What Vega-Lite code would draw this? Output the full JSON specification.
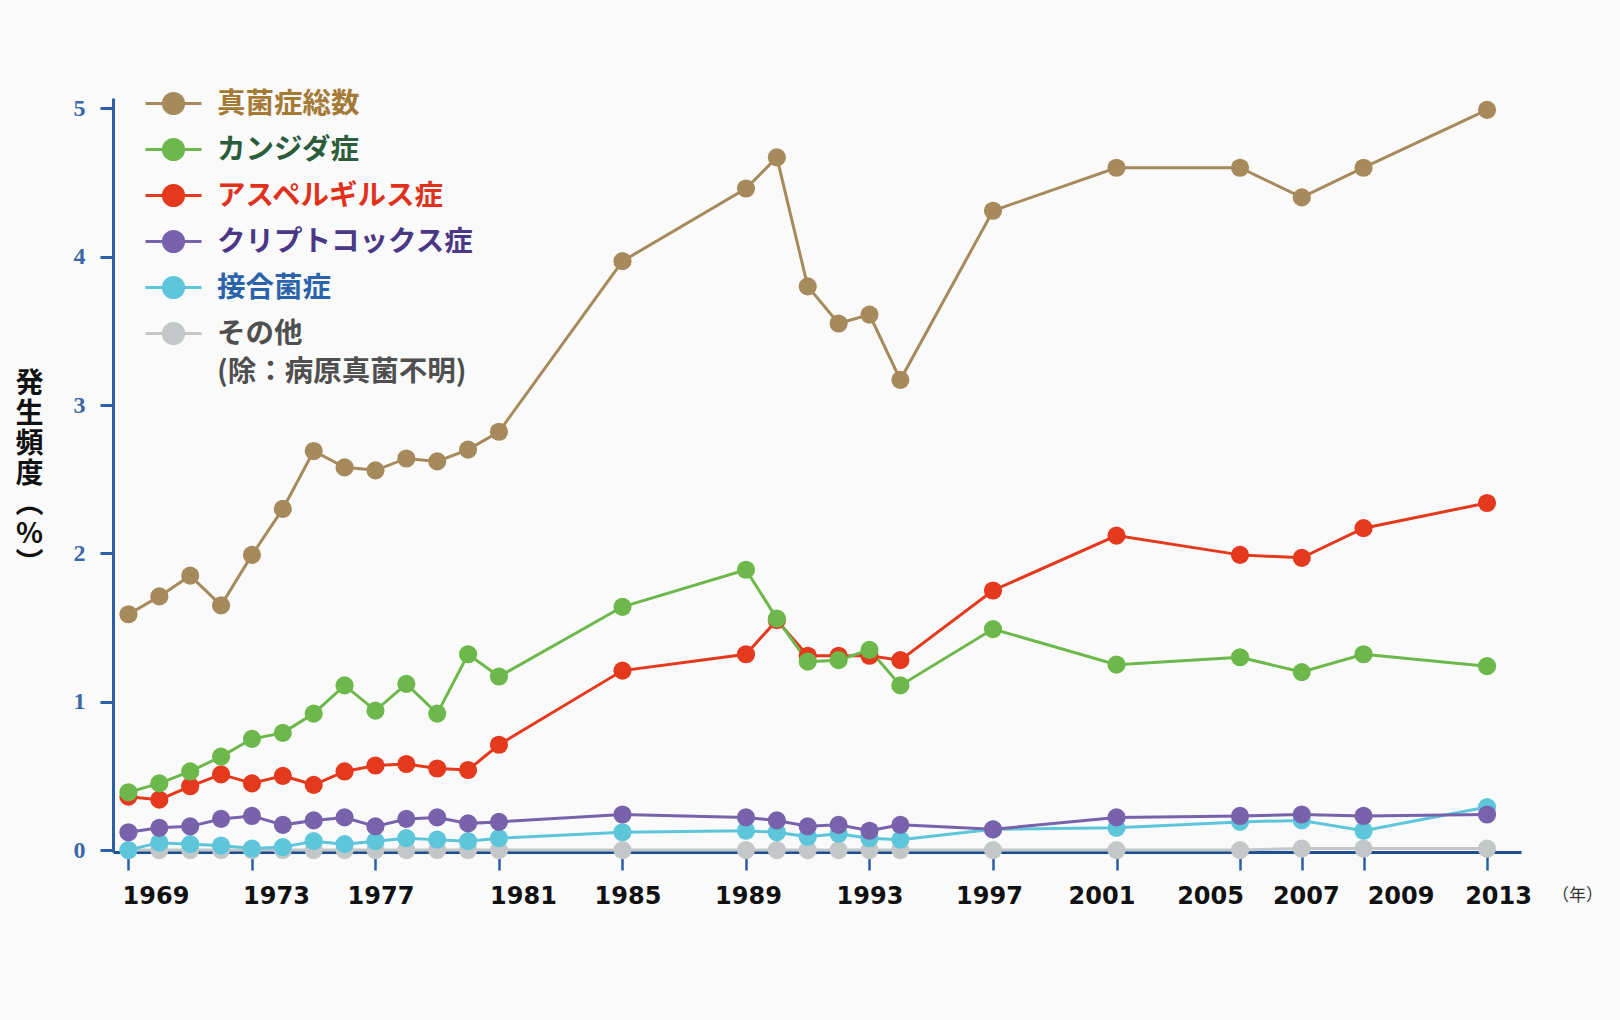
{
  "$schema": "https://vega.github.io/schema/vega-lite/v6.json",
  "width": 1408,
  "height": 754,
  "autosize": {"type": "none"},
  "padding": {"left": 113, "top": 98, "right": 99, "bottom": 168},
  "background": "#fafafa",
  "config": {"view": {"stroke": null}},
  "data": {"values": [
    {"year":1969,"type":"その他","rate":0},{"year":1970,"type":"その他","rate":0},{"year":1971,"type":"その他","rate":0},{"year":1972,"type":"その他","rate":0},{"year":1973,"type":"その他","rate":0},{"year":1974,"type":"その他","rate":0},{"year":1975,"type":"その他","rate":0},{"year":1976,"type":"その他","rate":0},{"year":1977,"type":"その他","rate":0},{"year":1978,"type":"その他","rate":0},{"year":1979,"type":"その他","rate":0},{"year":1980,"type":"その他","rate":0},{"year":1981,"type":"その他","rate":0},{"year":1985,"type":"その他","rate":0},{"year":1989,"type":"その他","rate":0},{"year":1990,"type":"その他","rate":0},{"year":1991,"type":"その他","rate":0},{"year":1992,"type":"その他","rate":0},{"year":1993,"type":"その他","rate":0},{"year":1994,"type":"その他","rate":0},{"year":1997,"type":"その他","rate":0},{"year":2001,"type":"その他","rate":0},{"year":2005,"type":"その他","rate":0},{"year":2007,"type":"その他","rate":0.01},{"year":2009,"type":"その他","rate":0.01},{"year":2013,"type":"その他","rate":0.01},
    {"year":1969,"type":"接合菌症","rate":0.00},{"year":1970,"type":"接合菌症","rate":0.05},{"year":1971,"type":"接合菌症","rate":0.04},{"year":1972,"type":"接合菌症","rate":0.03},{"year":1973,"type":"接合菌症","rate":0.01},{"year":1974,"type":"接合菌症","rate":0.02},{"year":1975,"type":"接合菌症","rate":0.06},{"year":1976,"type":"接合菌症","rate":0.04},{"year":1977,"type":"接合菌症","rate":0.06},{"year":1978,"type":"接合菌症","rate":0.08},{"year":1979,"type":"接合菌症","rate":0.07},{"year":1980,"type":"接合菌症","rate":0.06},{"year":1981,"type":"接合菌症","rate":0.08},{"year":1985,"type":"接合菌症","rate":0.12},{"year":1989,"type":"接合菌症","rate":0.13},{"year":1990,"type":"接合菌症","rate":0.12},{"year":1991,"type":"接合菌症","rate":0.09},{"year":1992,"type":"接合菌症","rate":0.11},{"year":1993,"type":"接合菌症","rate":0.08},{"year":1994,"type":"接合菌症","rate":0.07},{"year":1997,"type":"接合菌症","rate":0.14},{"year":2001,"type":"接合菌症","rate":0.15},{"year":2005,"type":"接合菌症","rate":0.19},{"year":2007,"type":"接合菌症","rate":0.20},{"year":2009,"type":"接合菌症","rate":0.13},{"year":2013,"type":"接合菌症","rate":0.29},
    {"year":1969,"type":"クリプトコックス症","rate":0.12},{"year":1970,"type":"クリプトコックス症","rate":0.15},{"year":1971,"type":"クリプトコックス症","rate":0.16},{"year":1972,"type":"クリプトコックス症","rate":0.21},{"year":1973,"type":"クリプトコックス症","rate":0.23},{"year":1974,"type":"クリプトコックス症","rate":0.17},{"year":1975,"type":"クリプトコックス症","rate":0.20},{"year":1976,"type":"クリプトコックス症","rate":0.22},{"year":1977,"type":"クリプトコックス症","rate":0.16},{"year":1978,"type":"クリプトコックス症","rate":0.21},{"year":1979,"type":"クリプトコックス症","rate":0.22},{"year":1980,"type":"クリプトコックス症","rate":0.18},{"year":1981,"type":"クリプトコックス症","rate":0.19},{"year":1985,"type":"クリプトコックス症","rate":0.24},{"year":1989,"type":"クリプトコックス症","rate":0.22},{"year":1990,"type":"クリプトコックス症","rate":0.20},{"year":1991,"type":"クリプトコックス症","rate":0.16},{"year":1992,"type":"クリプトコックス症","rate":0.17},{"year":1993,"type":"クリプトコックス症","rate":0.13},{"year":1994,"type":"クリプトコックス症","rate":0.17},{"year":1997,"type":"クリプトコックス症","rate":0.14},{"year":2001,"type":"クリプトコックス症","rate":0.22},{"year":2005,"type":"クリプトコックス症","rate":0.23},{"year":2007,"type":"クリプトコックス症","rate":0.24},{"year":2009,"type":"クリプトコックス症","rate":0.23},{"year":2013,"type":"クリプトコックス症","rate":0.24},
    {"year":1969,"type":"アスペルギルス症","rate":0.36},{"year":1970,"type":"アスペルギルス症","rate":0.34},{"year":1971,"type":"アスペルギルス症","rate":0.43},{"year":1972,"type":"アスペルギルス症","rate":0.51},{"year":1973,"type":"アスペルギルス症","rate":0.45},{"year":1974,"type":"アスペルギルス症","rate":0.50},{"year":1975,"type":"アスペルギルス症","rate":0.44},{"year":1976,"type":"アスペルギルス症","rate":0.53},{"year":1977,"type":"アスペルギルス症","rate":0.57},{"year":1978,"type":"アスペルギルス症","rate":0.58},{"year":1979,"type":"アスペルギルス症","rate":0.55},{"year":1980,"type":"アスペルギルス症","rate":0.54},{"year":1981,"type":"アスペルギルス症","rate":0.71},{"year":1985,"type":"アスペルギルス症","rate":1.21},{"year":1989,"type":"アスペルギルス症","rate":1.32},{"year":1990,"type":"アスペルギルス症","rate":1.55},{"year":1991,"type":"アスペルギルス症","rate":1.31},{"year":1992,"type":"アスペルギルス症","rate":1.31},{"year":1993,"type":"アスペルギルス症","rate":1.31},{"year":1994,"type":"アスペルギルス症","rate":1.28},{"year":1997,"type":"アスペルギルス症","rate":1.75},{"year":2001,"type":"アスペルギルス症","rate":2.12},{"year":2005,"type":"アスペルギルス症","rate":1.99},{"year":2007,"type":"アスペルギルス症","rate":1.97},{"year":2009,"type":"アスペルギルス症","rate":2.17},{"year":2013,"type":"アスペルギルス症","rate":2.34},
    {"year":1969,"type":"カンジダ症","rate":0.39},{"year":1970,"type":"カンジダ症","rate":0.45},{"year":1971,"type":"カンジダ症","rate":0.53},{"year":1972,"type":"カンジダ症","rate":0.63},{"year":1973,"type":"カンジダ症","rate":0.75},{"year":1974,"type":"カンジダ症","rate":0.79},{"year":1975,"type":"カンジダ症","rate":0.92},{"year":1976,"type":"カンジダ症","rate":1.11},{"year":1977,"type":"カンジダ症","rate":0.94},{"year":1978,"type":"カンジダ症","rate":1.12},{"year":1979,"type":"カンジダ症","rate":0.92},{"year":1980,"type":"カンジダ症","rate":1.32},{"year":1981,"type":"カンジダ症","rate":1.17},{"year":1985,"type":"カンジダ症","rate":1.64},{"year":1989,"type":"カンジダ症","rate":1.89},{"year":1990,"type":"カンジダ症","rate":1.56},{"year":1991,"type":"カンジダ症","rate":1.27},{"year":1992,"type":"カンジダ症","rate":1.28},{"year":1993,"type":"カンジダ症","rate":1.35},{"year":1994,"type":"カンジダ症","rate":1.11},{"year":1997,"type":"カンジダ症","rate":1.49},{"year":2001,"type":"カンジダ症","rate":1.25},{"year":2005,"type":"カンジダ症","rate":1.30},{"year":2007,"type":"カンジダ症","rate":1.20},{"year":2009,"type":"カンジダ症","rate":1.32},{"year":2013,"type":"カンジダ症","rate":1.24},
    {"year":1969,"type":"真菌症総数","rate":1.59},{"year":1970,"type":"真菌症総数","rate":1.71},{"year":1971,"type":"真菌症総数","rate":1.85},{"year":1972,"type":"真菌症総数","rate":1.65},{"year":1973,"type":"真菌症総数","rate":1.99},{"year":1974,"type":"真菌症総数","rate":2.30},{"year":1975,"type":"真菌症総数","rate":2.69},{"year":1976,"type":"真菌症総数","rate":2.58},{"year":1977,"type":"真菌症総数","rate":2.56},{"year":1978,"type":"真菌症総数","rate":2.64},{"year":1979,"type":"真菌症総数","rate":2.62},{"year":1980,"type":"真菌症総数","rate":2.70},{"year":1981,"type":"真菌症総数","rate":2.82},{"year":1985,"type":"真菌症総数","rate":3.97},{"year":1989,"type":"真菌症総数","rate":4.46},{"year":1990,"type":"真菌症総数","rate":4.67},{"year":1991,"type":"真菌症総数","rate":3.80},{"year":1992,"type":"真菌症総数","rate":3.55},{"year":1993,"type":"真菌症総数","rate":3.61},{"year":1994,"type":"真菌症総数","rate":3.17},{"year":1997,"type":"真菌症総数","rate":4.31},{"year":2001,"type":"真菌症総数","rate":4.60},{"year":2005,"type":"真菌症総数","rate":4.60},{"year":2007,"type":"真菌症総数","rate":4.40},{"year":2009,"type":"真菌症総数","rate":4.60},{"year":2013,"type":"真菌症総数","rate":4.99}
  ]},
  "encoding": {
    "x": {
      "field": "year", "type": "quantitative",
      "scale": {"domain": [1968.5, 2014.1], "nice": false, "zero": false},
      "axis": {
        "values": [1969,1973,1977,1981,1985,1989,1993,1997,2001,2005,2007,2009,2013],
        "format": "d",
        "grid": false,
        "domainColor": "#1c4f92", "domainWidth": 3,
        "tickColor": "#2a5ca8", "tickWidth": 2.5, "tickSize": 18,
        "labelFont": "DejaVu Sans", "labelFontWeight": "bold", "labelFontSize": 24, "labelColor": "#111111",
        "labelPadding": 14, "labelFlush": false, "labelOverlap": false,
        "labelOffset": {
          "condition": [
            {"test": "datum.value == 1969", "value": 27},
            {"test": "datum.value == 1973", "value": 24},
            {"test": "datum.value == 1977", "value": 5},
            {"test": "datum.value == 1981", "value": 24},
            {"test": "datum.value == 1985", "value": 5},
            {"test": "datum.value == 1989", "value": 2},
            {"test": "datum.value == 1997", "value": -4},
            {"test": "datum.value == 2001", "value": -15},
            {"test": "datum.value == 2005", "value": -30},
            {"test": "datum.value == 2007", "value": 4},
            {"test": "datum.value == 2009", "value": 37},
            {"test": "datum.value == 2013", "value": 11}
          ],
          "value": 0
        },
        "title": "（年）", "titleFont": "Noto Sans CJK JP", "titleFontSize": 17, "titleFontWeight": "normal", "titleColor": "#333333",
        "titleX": 1464, "titleY": 43, "titleAlign": "center", "titleBaseline": "middle", "titleAnchor": null
      }
    },
    "y": {
      "field": "rate", "type": "quantitative",
      "scale": {"domain": [-0.013, 5.07], "nice": false, "zero": false},
      "axis": {
        "values": [0,1,2,3,4,5],
        "grid": false,
        "domainColor": "#2c5fa8", "domainWidth": 3,
        "tickColor": "#2c5fa8", "tickWidth": 3, "tickSize": 13,
        "labelFont": "Liberation Serif", "labelFontWeight": "bold", "labelFontSize": 24, "labelColor": "#3a68a8",
        "labelPadding": 15,
        "title": ["発", "生", "頻", "度", "︵", "%", "︶"],
        "titleFont": "Noto Sans CJK JP", "titleFontSize": 28, "titleFontWeight": "bold", "titleColor": "#111111",
        "titleAngle": 0, "titleX": -84, "titleY": 272, "titleAlign": "center", "titleBaseline": "top", "titleLineHeight": 30, "titleAnchor": null
      }
    },
    "color": {
      "field": "type", "type": "nominal",
      "scale": {
        "domain": ["真菌症総数", "カンジダ症", "アスペルギルス症", "クリプトコックス症", "接合菌症", "その他"],
        "range": ["#a68a5b", "#6cb84a", "#e4391d", "#7862ac", "#5ec6da", "#c3c7c7"]
      },
      "legend": {
        "orient": "none", "legendX": 31, "legendY": -24, "padding": 0,
        "title": null,
        "symbolType": "M-1,0L1,0M-0.36,0A0.36,0.36,0,1,1,0.36,0A0.36,0.36,0,1,1,-0.36,0Z",
        "symbolSize": 3136, "symbolStrokeWidth": 3,
        "labelFont": "Noto Sans CJK JP", "labelFontWeight": "bold", "labelFontSize": 28.5,
        "labelLimit": 500, "labelOffset": 14, "rowPadding": -2,
        "labelExpr": "datum.label == 'その他' ? ['その他', '(除：病原真菌不明)'] : datum.label",
        "encode": {
          "symbols": {"update": {
            "fill": {"scale": "color", "field": "value"},
            "stroke": {"scale": "color", "field": "value"},
            "strokeWidth": {"value": 3},
            "opacity": {"value": 1}
          }},
          "labels": {"update": {
            "fill": {"signal": "datum.value === '真菌症総数' ? '#a47a36' : datum.value === 'カンジダ症' ? '#2b5c3b' : datum.value === 'アスペルギルス症' ? '#e0311d' : datum.value === 'クリプトコックス症' ? '#4a3886' : datum.value === '接合菌症' ? '#2b63aa' : '#4f4f4f'"},
            "lineHeight": {"value": 38}
          }}
        }
      }
    }
  },
  "layer": [
    {"mark": {"type": "line", "strokeWidth": 3}},
    {"mark": {"type": "point", "filled": true, "size": 330, "opacity": 1}}
  ]
}
